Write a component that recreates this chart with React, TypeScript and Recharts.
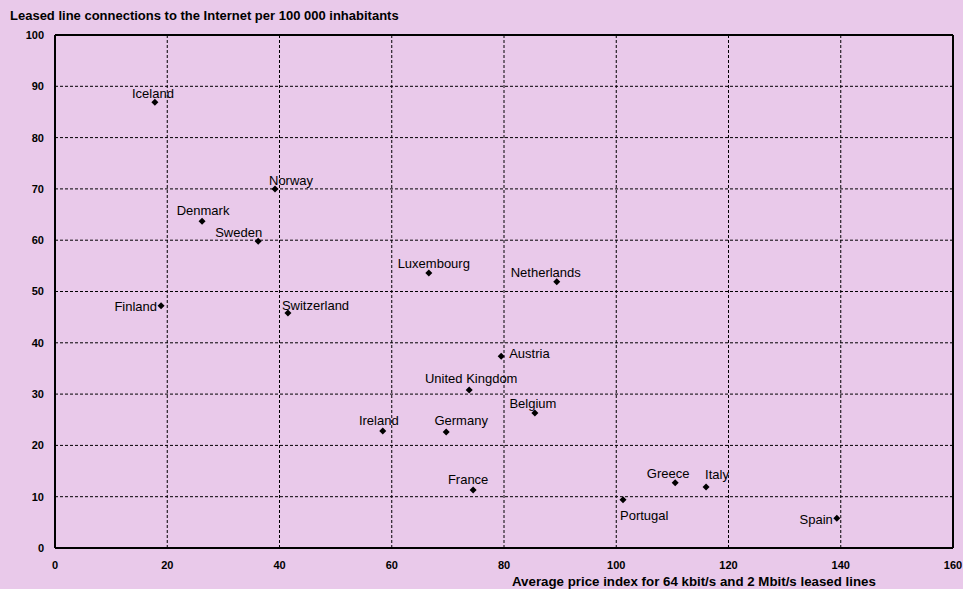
import React from 'react';
import {
  ScatterChart,
  Scatter,
  XAxis,
  YAxis,
  CartesianGrid,
  ReferenceLine,
} from 'recharts';

// Country names and their values
const countries = [
  'Iceland', 'Norway', 'Denmark', 'Sweden', 'Finland', 'Switzerland',
  'Luxembourg', 'Netherlands', 'Austria', 'United Kingdom', 'Belgium',
  'Ireland', 'Germany', 'France', 'Portugal', 'Greece', 'Italy', 'Spain',
];
const priceIndex = [
  17.8, 39.2, 26.2, 36.2, 18.9, 41.5,
  66.6, 89.4, 79.5, 73.8, 85.5,
  58.4, 69.7, 74.5, 101.2, 110.5, 116.0, 139.3,
];
const connections = [
  86.9, 70.0, 63.7, 59.8, 47.2, 45.8,
  53.6, 51.9, 37.4, 30.8, 26.3,
  22.8, 22.6, 11.3, 9.4, 12.7, 11.9, 5.8,
];
const xTicks = [0, 20, 40, 60, 80, 100, 120, 140, 160];
const yTicks = [0, 10, 20, 30, 40, 50, 60, 70, 80, 90, 100];

// where each country's name sits relative to its marker
const labelPlacement: Record<string, { dx: number; dy: number; anchor: string }> = {
  Iceland: { dx: -2, dy: -4, anchor: 'middle' },
  Norway: { dx: -6, dy: -4, anchor: 'start' },
  Denmark: { dx: 1, dy: -6, anchor: 'middle' },
  Sweden: { dx: 4, dy: -4, anchor: 'end' },
  Finland: { dx: -4, dy: 5, anchor: 'end' },
  Switzerland: { dx: -6, dy: -3, anchor: 'start' },
  Luxembourg: { dx: 5, dy: -5, anchor: 'middle' },
  Netherlands: { dx: -11, dy: -5, anchor: 'middle' },
  Austria: { dx: 8, dy: 2, anchor: 'start' },
  'United Kingdom': { dx: 2, dy: -7, anchor: 'middle' },
  Belgium: { dx: -2, dy: -5, anchor: 'middle' },
  Ireland: { dx: -4, dy: -6, anchor: 'middle' },
  Germany: { dx: 15, dy: -7, anchor: 'middle' },
  France: { dx: -5, dy: -6, anchor: 'middle' },
  Portugal: { dx: -3, dy: 20, anchor: 'start' },
  Greece: { dx: -7, dy: -5, anchor: 'middle' },
  Italy: { dx: -1, dy: -8, anchor: 'start' },
  Spain: { dx: -4, dy: 6, anchor: 'end' },
};

const data = countries.map((name, i) => ({
  name,
  x: priceIndex[i],
  y: connections[i],
}));

const FONT = '"Liberation Sans", Arial, sans-serif';
const BG = '#E9C9EA';

const DiamondWithLabel = (props: any) => {
  const { cx, cy, payload } = props;
  const p = labelPlacement[payload.name] || { dx: 0, dy: -5, anchor: 'middle' };
  const r = 3.5;
  return (
    <g>
      <path
        d={`M${cx},${cy - r} L${cx + r},${cy} L${cx},${cy + r} L${cx - r},${cy} Z`}
        fill="#000"
      />
      <text
        x={cx + p.dx}
        y={cy + p.dy}
        textAnchor={p.anchor as any}
        fontFamily={FONT}
        fontSize={13}
        fill="#000"
      >
        {payload.name}
      </text>
    </g>
  );
};

const tickStyle = { fill: '#000', fontSize: 11, fontWeight: 'bold', fontFamily: FONT };

export default function App() {
  return (
    <div style={{ position: 'fixed', left: 0, top: 0, width: 963, height: 589, background: BG, fontFamily: FONT }}>
      <div style={{ position: 'absolute', left: 10, top: 8, fontSize: 13, fontWeight: 'bold', color: '#000', whiteSpace: 'nowrap' }}>
        Leased line connections to the Internet per 100 000 inhabitants
      </div>
      <div style={{ position: 'absolute', left: 512, top: 574, fontSize: 13.3, fontWeight: 'bold', color: '#000', whiteSpace: 'nowrap' }}>
        Average price index for 64 kbit/s and 2 Mbit/s leased lines
      </div>
      <ScatterChart
        width={963}
        height={589}
        margin={{ top: 35, right: 10, left: 25, bottom: 21 }}
        style={{ position: 'absolute', left: 0, top: 0 }}
      >
        <CartesianGrid stroke="#000" strokeDasharray="3 2" />
        <XAxis
          type="number"
          dataKey="x"
          domain={[0, 160]}
          ticks={xTicks}
          height={20}
          tickSize={0}
          tickMargin={13}
          tick={tickStyle}
          axisLine={{ stroke: '#000', strokeWidth: 2 }}
          interval={0}
        />
        <YAxis
          type="number"
          dataKey="y"
          domain={[0, 100]}
          ticks={yTicks}
          width={30}
          tickSize={0}
          tickMargin={11}
          tick={tickStyle}
          axisLine={{ stroke: '#000', strokeWidth: 2 }}
          interval={0}
        />
        <ReferenceLine y={100} stroke="#000" strokeWidth={2} />
        <ReferenceLine x={160} stroke="#000" strokeWidth={2} />
        <Scatter data={data} shape={DiamondWithLabel} isAnimationActive={false} />
      </ScatterChart>
    </div>
  );
}
